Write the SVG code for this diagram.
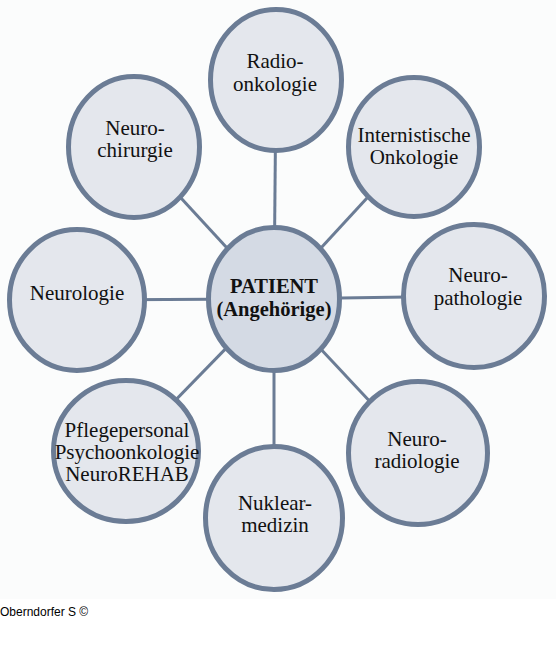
<svg xmlns="http://www.w3.org/2000/svg" width="556" height="661" viewBox="0 0 556 661">
<style>
.node{fill:#e4e7ed;stroke:#6b7c95;stroke-width:5}
.center{fill:#d4dae4;stroke:#6b7c95;stroke-width:5}
.conn line{stroke:#6b7c95;stroke-width:3}
text{font-family:"Liberation Serif","Times New Roman",serif;font-size:21px;fill:#111;text-anchor:middle}
.b{font-weight:bold;font-size:20.5px}
.foot{font-family:"Liberation Sans",Arial,sans-serif;font-size:12px;text-anchor:start;fill:#000}
</style>
<rect x="0" y="0" width="556" height="599" fill="#fbfcfc"/>
<rect x="0" y="599" width="556" height="62" fill="#ffffff"/>
<g id="connectors" class="conn">
<line x1="274" y1="299" x2="276" y2="80"/>
<line x1="274" y1="299" x2="414" y2="147"/>
<line x1="274" y1="299" x2="474" y2="296"/>
<line x1="274" y1="299" x2="418" y2="453"/>
<line x1="274" y1="299" x2="274" y2="518"/>
<line x1="274" y1="299" x2="126" y2="451"/>
<line x1="274" y1="299" x2="77" y2="300"/>
<line x1="274" y1="299" x2="134" y2="147"/>
</g>
<g id="radioonkologie">
<ellipse class="node" cx="276" cy="80" rx="65.5" ry="70.5"/>
<text x="275" y="68">Radio-</text>
<text x="275" y="91">onkologie</text>
</g>
<g id="internistische-onkologie">
<ellipse class="node" cx="414" cy="147" rx="65.5" ry="69.5"/>
<text x="414" y="142">Internistische</text>
<text x="414" y="164">Onkologie</text>
</g>
<g id="neuropathologie">
<ellipse class="node" cx="474" cy="296" rx="70.5" ry="71.5"/>
<text x="478" y="282">Neuro-</text>
<text x="478" y="305">pathologie</text>
</g>
<g id="neuroradiologie">
<ellipse class="node" cx="418" cy="453" rx="69.5" ry="71.5"/>
<text x="417" y="446">Neuro-</text>
<text x="417" y="468">radiologie</text>
</g>
<g id="nuklearmedizin">
<ellipse class="node" cx="274" cy="518" rx="68.5" ry="71.5"/>
<text x="275" y="510">Nuklear-</text>
<text x="275" y="532">medizin</text>
</g>
<g id="pflege">
<ellipse class="node" cx="126" cy="451" rx="72.5" ry="70.5"/>
<text x="127" y="437">Pflegepersonal</text>
<text x="127" y="459">Psychoonkologie</text>
<text x="127" y="481">NeuroREHAB</text>
</g>
<g id="neurologie">
<ellipse class="node" cx="77" cy="300" rx="67.5" ry="70.5"/>
<text x="77" y="300">Neurologie</text>
</g>
<g id="neurochirurgie">
<ellipse class="node" cx="134" cy="147" rx="65.5" ry="70.5"/>
<text x="135" y="135">Neuro-</text>
<text x="135" y="157">chirurgie</text>
</g>
<g id="patient">
<ellipse class="center" cx="274" cy="299" rx="65.5" ry="71.5"/>
<text class="b" x="274" y="293">PATIENT</text>
<text class="b" x="274" y="316">(Angehörige)</text>
</g>
<text class="foot" x="0" y="616">Oberndorfer S ©</text>
</svg>
